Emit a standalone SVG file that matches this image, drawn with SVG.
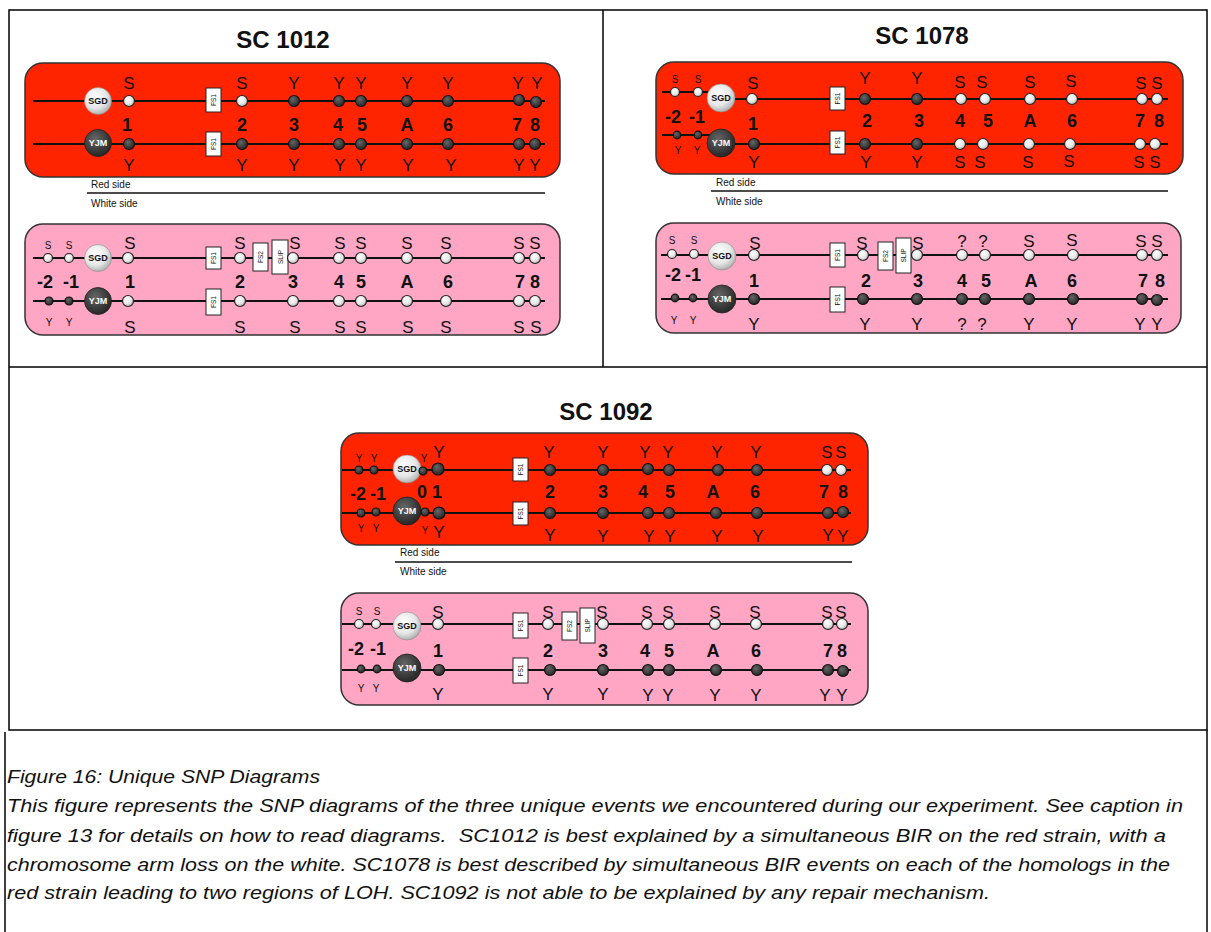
<svg xmlns="http://www.w3.org/2000/svg" width="1211" height="932" viewBox="0 0 1211 932">
<defs>
<radialGradient id="gw" cx="40%" cy="35%" r="70%"><stop offset="0" stop-color="#ffffff"/><stop offset="0.6" stop-color="#e6e6e6"/><stop offset="1" stop-color="#a8a8a8"/></radialGradient>
<radialGradient id="gd" cx="40%" cy="35%" r="70%"><stop offset="0" stop-color="#666"/><stop offset="0.6" stop-color="#3c3c3c"/><stop offset="1" stop-color="#222"/></radialGradient>
<style>
text{font-family:"Liberation Sans",Arial,sans-serif;fill:#111}
.lb{font-size:17px;text-anchor:middle}
.sm{font-size:10px;text-anchor:middle}
.num{font-size:18px;font-weight:bold;text-anchor:middle}
.title{font-size:24px;font-weight:bold;text-anchor:middle}
.side{font-size:10px}
.bx{fill:#fff;stroke:#222;stroke-width:1}
.bt{font-size:6.5px;text-anchor:middle;dominant-baseline:central}
.w{fill:url(#gw);stroke:#222;stroke-width:1.2}
.d{fill:url(#gd);stroke:#111;stroke-width:1.2}
.bw{fill:url(#gw);stroke:#888;stroke-width:0.6}
.bd{fill:url(#gd);stroke:#222;stroke-width:0.8}
.bl{font-size:9px;font-weight:bold;text-anchor:middle;dominant-baseline:central}
.chr{stroke:#111;stroke-width:2;fill:none}
.sep{stroke:#111;stroke-width:1.5}
.red{fill:#ff2400;stroke:#333;stroke-width:1.5}
.pink{fill:#ffa6c4;stroke:#333;stroke-width:1.5}
.frame{fill:none;stroke:#000;stroke-width:1.5}
.cap{font-size:18px;font-style:italic;white-space:pre}
</style>
</defs>
<rect width="1211" height="932" fill="#fff"/>
<g id="frame">
<rect class="frame" x="9" y="10" width="1198" height="720"/>
<line class="frame" x1="603" y1="10" x2="603" y2="367"/>
<line class="frame" x1="9" y1="367" x2="1207" y2="367"/>
<line class="frame" x1="5" y1="732" x2="5" y2="932"/>
<line class="frame" x1="1207" y1="730" x2="1207" y2="932"/>
</g>
<g id="panels">
<rect class="red" x="25" y="63" width="535" height="114" rx="18"/>
<rect class="pink" x="25" y="224" width="535" height="111" rx="18"/>
<rect class="red" x="656" y="62" width="527" height="112" rx="18"/>
<rect class="pink" x="656" y="223" width="525" height="110" rx="18"/>
<rect class="red" x="341" y="433" width="527" height="112" rx="18"/>
<rect class="pink" x="341" y="593" width="527" height="112" rx="18"/>
</g>
<g id="connectors">
<line class="chr" x1="33" y1="101" x2="545" y2="101"/>
<line class="chr" x1="33" y1="144" x2="545" y2="144"/>
<line class="chr" x1="33" y1="258" x2="545" y2="258"/>
<line class="chr" x1="33" y1="301" x2="545" y2="301"/>
<line class="chr" x1="662" y1="92" x2="721" y2="92"/>
<line class="chr" x1="721" y1="99" x2="1168" y2="99"/>
<line class="chr" x1="662" y1="135" x2="721" y2="135"/>
<line class="chr" x1="721" y1="144" x2="1168" y2="144"/>
<line class="chr" x1="661" y1="255" x2="1168" y2="255"/>
<line class="chr" x1="661" y1="299" x2="1168" y2="299"/>
<line class="chr" x1="342" y1="470" x2="851" y2="470"/>
<line class="chr" x1="342" y1="513" x2="851" y2="513"/>
<line class="chr" x1="342" y1="624" x2="851" y2="624"/>
<line class="chr" x1="342" y1="670" x2="851" y2="670"/>
<line class="sep" x1="87" y1="193" x2="545" y2="193"/>
<line class="sep" x1="711" y1="191" x2="1168" y2="191"/>
<line class="sep" x1="395" y1="562" x2="852" y2="562"/>
</g>

<g id="sc1012">
<text class="title" x="283" y="48">SC 1012</text>
<text class="side" x="91" y="188">Red side</text>
<text class="side" x="91" y="207">White side</text>
</g>
<g id="sc1012-red">
<circle class="bw" cx="98" cy="101" r="13.5"/><text class="bl" x="98" y="101">SGD</text>
<circle class="bd" cx="98" cy="143" r="13.5"/><text class="bl" x="98" y="143" style="fill:#fff">YJM</text>
<rect class="bx" x="206" y="88" width="15" height="24"/><text class="bt" transform="translate(213.5,100) rotate(-90)">FS1</text>
<rect class="bx" x="206" y="132" width="15" height="24"/><text class="bt" transform="translate(213.5,144) rotate(-90)">FS1</text>
<circle class="w" cx="129" cy="101" r="5.5"/><circle class="w" cx="242" cy="101" r="5.5"/><circle class="d" cx="294" cy="101" r="5.5"/><circle class="d" cx="339" cy="101" r="5.5"/><circle class="d" cx="361" cy="101" r="5.5"/><circle class="d" cx="407" cy="101" r="5.5"/><circle class="d" cx="448" cy="101" r="5.5"/><circle class="d" cx="519" cy="100" r="5.5"/><circle class="d" cx="536" cy="102" r="5.5"/>
<circle class="d" cx="129" cy="144" r="5.5"/><circle class="d" cx="242" cy="144" r="5.5"/><circle class="d" cx="294" cy="144" r="5.5"/><circle class="d" cx="339" cy="144" r="5.5"/><circle class="d" cx="361" cy="144" r="5.5"/><circle class="d" cx="407" cy="144" r="5.5"/><circle class="d" cx="448" cy="144" r="5.5"/><circle class="d" cx="519" cy="144" r="5.5"/><circle class="d" cx="535" cy="144" r="5.5"/>
<text class="lb" x="129" y="89">S</text><text class="lb" x="242" y="89">S</text><text class="lb" x="294" y="89">Y</text><text class="lb" x="339" y="89">Y</text><text class="lb" x="361" y="89">Y</text><text class="lb" x="407" y="89">Y</text><text class="lb" x="448" y="89">Y</text><text class="lb" x="518" y="89">Y</text><text class="lb" x="537" y="89">Y</text>
<text class="num" x="127" y="131">1</text><text class="num" x="242" y="131">2</text><text class="num" x="294" y="131">3</text><text class="num" x="338" y="131">4</text><text class="num" x="362" y="131">5</text><text class="num" x="407" y="131">A</text><text class="num" x="448" y="131">6</text><text class="num" x="517" y="131">7</text><text class="num" x="535" y="131">8</text>
<text class="lb" x="129" y="171">Y</text><text class="lb" x="242" y="171">Y</text><text class="lb" x="294" y="171">Y</text><text class="lb" x="340" y="171">Y</text><text class="lb" x="361" y="171">Y</text><text class="lb" x="408" y="171">Y</text><text class="lb" x="451" y="171">Y</text><text class="lb" x="519" y="171">Y</text><text class="lb" x="535" y="171">Y</text>
</g>
<g id="sc1012-white">
<circle class="w" cx="48" cy="258" r="4.5"/><circle class="w" cx="69" cy="258" r="4.5"/>
<circle class="d" cx="49" cy="301" r="4"/><circle class="d" cx="69" cy="301" r="4"/>
<circle class="bw" cx="98" cy="258" r="13.5"/><text class="bl" x="98" y="258">SGD</text>
<circle class="bd" cx="98" cy="301" r="13.5"/><text class="bl" x="98" y="301" style="fill:#fff">YJM</text>
<rect class="bx" x="206" y="247" width="15" height="22"/><text class="bt" transform="translate(213.5,258) rotate(-90)">FS1</text>
<rect class="bx" x="253" y="243" width="15" height="28"/><text class="bt" transform="translate(260.5,257) rotate(-90)">FS2</text>
<rect class="bx" x="272" y="240" width="16" height="34"/><text class="bt" transform="translate(280,257) rotate(-90)">SLIP</text>
<rect class="bx" x="206" y="289" width="15" height="26"/><text class="bt" transform="translate(213.5,302) rotate(-90)">FS1</text>
<circle class="w" cx="128" cy="258" r="5.5"/><circle class="w" cx="240" cy="258" r="5.5"/><circle class="w" cx="293" cy="258" r="5.5"/><circle class="w" cx="339" cy="258" r="5.5"/><circle class="w" cx="361" cy="258" r="5.5"/><circle class="w" cx="407" cy="258" r="5.5"/><circle class="w" cx="446" cy="258" r="5.5"/><circle class="w" cx="519" cy="258" r="5.5"/><circle class="w" cx="535" cy="258" r="5.5"/>
<circle class="w" cx="128" cy="301" r="5.5"/><circle class="w" cx="240" cy="301" r="5.5"/><circle class="w" cx="293" cy="301" r="5.5"/><circle class="w" cx="339" cy="301" r="5.5"/><circle class="w" cx="361" cy="301" r="5.5"/><circle class="w" cx="407" cy="301" r="5.5"/><circle class="w" cx="446" cy="301" r="5.5"/><circle class="w" cx="519" cy="301" r="5.5"/><circle class="w" cx="535" cy="301" r="5.5"/>
<text class="sm" x="48" y="248.5">S</text><text class="sm" x="69" y="248.5">S</text>
<text class="lb" x="130" y="249">S</text><text class="lb" x="240" y="249">S</text><text class="lb" x="295" y="249">S</text><text class="lb" x="340" y="249">S</text><text class="lb" x="361" y="249">S</text><text class="lb" x="407" y="249">S</text><text class="lb" x="446" y="249">S</text><text class="lb" x="519" y="249">S</text><text class="lb" x="535" y="249">S</text>
<text class="num" x="45" y="287.5">-2</text><text class="num" x="71" y="287.5">-1</text><text class="num" x="130" y="287.5">1</text><text class="num" x="240" y="287.5">2</text><text class="num" x="293" y="287.5">3</text><text class="num" x="339" y="287.5">4</text><text class="num" x="361" y="287.5">5</text><text class="num" x="407" y="287.5">A</text><text class="num" x="448" y="287.5">6</text><text class="num" x="520" y="287.5">7</text><text class="num" x="535" y="287.5">8</text>
<text class="sm" x="49" y="325.5">Y</text><text class="sm" x="69" y="325.5">Y</text>
<text class="lb" x="130" y="333">S</text><text class="lb" x="240" y="333">S</text><text class="lb" x="295" y="333">S</text><text class="lb" x="340" y="333">S</text><text class="lb" x="361" y="333">S</text><text class="lb" x="408" y="333">S</text><text class="lb" x="446" y="333">S</text><text class="lb" x="519" y="333">S</text><text class="lb" x="536" y="333">S</text>
</g>

<g id="sc1078">
<text class="title" x="922" y="44">SC 1078</text>
<text class="side" x="716" y="186">Red side</text>
<text class="side" x="716" y="205">White side</text>
</g>
<g id="sc1078-red">
<circle class="w" cx="675" cy="92" r="4.5"/><circle class="w" cx="698" cy="92" r="4.5"/>
<circle class="d" cx="677" cy="135" r="3.8"/><circle class="d" cx="698" cy="135" r="3.8"/>
<circle class="bw" cx="721" cy="98" r="14"/><text class="bl" x="721" y="98">SGD</text>
<circle class="bd" cx="721" cy="143" r="14"/><text class="bl" x="721" y="143" style="fill:#fff">YJM</text>
<rect class="bx" x="830" y="87" width="15" height="23"/><text class="bt" transform="translate(837.5,98.5) rotate(-90)">FS1</text>
<rect class="bx" x="830" y="131" width="15" height="23"/><text class="bt" transform="translate(837.5,142.5) rotate(-90)">FS1</text>
<circle class="w" cx="752" cy="99" r="5.5"/><circle class="d" cx="865" cy="99" r="5.5"/><circle class="d" cx="917" cy="99" r="5.5"/><circle class="w" cx="961" cy="99" r="5.5"/><circle class="w" cx="985" cy="99" r="5.5"/><circle class="w" cx="1030" cy="99" r="5.5"/><circle class="w" cx="1072" cy="99" r="5.5"/><circle class="w" cx="1142" cy="99" r="5.5"/><circle class="w" cx="1157" cy="99" r="5.5"/>
<circle class="d" cx="754" cy="144" r="5.5"/><circle class="d" cx="865" cy="144" r="5.5"/><circle class="d" cx="917" cy="144" r="5.5"/><circle class="w" cx="960" cy="144" r="5.5"/><circle class="w" cx="983" cy="144" r="5.5"/><circle class="w" cx="1029" cy="144" r="5.5"/><circle class="w" cx="1070" cy="144" r="5.5"/><circle class="w" cx="1140" cy="144" r="5.5"/><circle class="w" cx="1155" cy="144" r="5.5"/>
<text class="sm" x="675" y="82.5">S</text><text class="sm" x="698" y="82.5">S</text>
<text class="lb" x="753" y="89">S</text><text class="lb" x="865" y="84">Y</text><text class="lb" x="917" y="84">Y</text><text class="lb" x="960" y="88">S</text><text class="lb" x="982" y="88">S</text><text class="lb" x="1030" y="88">S</text><text class="lb" x="1071" y="87">S</text><text class="lb" x="1141" y="89">S</text><text class="lb" x="1157" y="89">S</text>
<text class="num" x="673" y="122.5">-2</text><text class="num" x="697" y="122.5">-1</text><text class="num" x="753" y="129.5">1</text><text class="num" x="867" y="126.5">2</text><text class="num" x="919" y="126.5">3</text><text class="num" x="960" y="126.5">4</text><text class="num" x="988" y="126.5">5</text><text class="num" x="1030" y="126.5">A</text><text class="num" x="1072" y="126.5">6</text><text class="num" x="1140" y="126.5">7</text><text class="num" x="1159" y="126.5">8</text>
<text class="sm" x="678" y="153.5">Y</text><text class="sm" x="697" y="153.5">Y</text>
<text class="lb" x="754" y="168">Y</text><text class="lb" x="866" y="168">Y</text><text class="lb" x="917" y="168">Y</text><text class="lb" x="960" y="168">S</text><text class="lb" x="980" y="168">S</text><text class="lb" x="1028" y="168">S</text><text class="lb" x="1069" y="167">S</text><text class="lb" x="1139" y="168">S</text><text class="lb" x="1155" y="168">S</text>
</g>
<g id="sc1078-white">
<circle class="w" cx="672" cy="254" r="4.5"/><circle class="w" cx="694" cy="254" r="4.5"/>
<circle class="d" cx="675" cy="298" r="3.8"/><circle class="d" cx="693" cy="298" r="3.8"/>
<circle class="bw" cx="722" cy="256" r="14"/><text class="bl" x="722" y="256">SGD</text>
<circle class="bd" cx="722" cy="299" r="14"/><text class="bl" x="722" y="299" style="fill:#fff">YJM</text>
<rect class="bx" x="830" y="243" width="15" height="24"/><text class="bt" transform="translate(837.5,255) rotate(-90)">FS1</text>
<rect class="bx" x="878" y="242" width="15" height="28"/><text class="bt" transform="translate(885.5,256) rotate(-90)">FS2</text>
<rect class="bx" x="896" y="238" width="15" height="35"/><text class="bt" transform="translate(903.5,255.5) rotate(-90)">SLIP</text>
<rect class="bx" x="830" y="287" width="15" height="25"/><text class="bt" transform="translate(837.5,299.5) rotate(-90)">FS1</text>
<circle class="w" cx="754" cy="255" r="5.5"/><circle class="w" cx="863" cy="255" r="5.5"/><circle class="w" cx="917" cy="255" r="5.5"/><circle class="w" cx="962" cy="255" r="5.5"/><circle class="w" cx="985" cy="255" r="5.5"/><circle class="w" cx="1029" cy="255" r="5.5"/><circle class="w" cx="1073" cy="255" r="5.5"/><circle class="w" cx="1142" cy="255" r="5.5"/><circle class="w" cx="1157" cy="255" r="5.5"/>
<circle class="d" cx="754" cy="299" r="5.5"/><circle class="d" cx="863" cy="299" r="5.5"/><circle class="d" cx="917" cy="299" r="5.5"/><circle class="d" cx="962" cy="299" r="5.5"/><circle class="d" cx="985" cy="299" r="5.5"/><circle class="d" cx="1029" cy="299" r="5.5"/><circle class="d" cx="1073" cy="299" r="5.5"/><circle class="d" cx="1142" cy="299" r="5.5"/><circle class="d" cx="1157" cy="300" r="5.5"/>
<text class="sm" x="672" y="243.5">S</text><text class="sm" x="694" y="243.5">S</text>
<text class="lb" x="755" y="249">S</text><text class="lb" x="862" y="249">S</text><text class="lb" x="918" y="249">S</text><text class="lb" x="962" y="247">?</text><text class="lb" x="983" y="247">?</text><text class="lb" x="1029" y="247">S</text><text class="lb" x="1072" y="246">S</text><text class="lb" x="1141" y="247">S</text><text class="lb" x="1157" y="247">S</text>
<text class="num" x="673" y="281">-2</text><text class="num" x="693" y="281">-1</text><text class="num" x="754" y="286.5">1</text><text class="num" x="866" y="286.5">2</text><text class="num" x="918" y="286.5">3</text><text class="num" x="962" y="286.5">4</text><text class="num" x="986" y="286.5">5</text><text class="num" x="1031" y="286.5">A</text><text class="num" x="1072" y="286.5">6</text><text class="num" x="1143" y="286.5">7</text><text class="num" x="1160" y="286.5">8</text>
<text class="sm" x="674" y="323.5">Y</text><text class="sm" x="693" y="323.5">Y</text>
<text class="lb" x="754" y="329.5">Y</text><text class="lb" x="865" y="329.5">Y</text><text class="lb" x="917" y="329.5">Y</text><text class="lb" x="962" y="330">?</text><text class="lb" x="982" y="330">?</text><text class="lb" x="1029" y="330">Y</text><text class="lb" x="1072" y="330">Y</text><text class="lb" x="1140" y="330">Y</text><text class="lb" x="1157" y="330">Y</text>
</g>

<g id="sc1092">
<text class="title" x="606" y="420">SC 1092</text>
<text class="side" x="400" y="556">Red side</text>
<text class="side" x="400" y="575">White side</text>
</g>
<g id="sc1092-red">
<circle class="d" cx="359" cy="470" r="4"/><circle class="d" cx="374" cy="470" r="4"/>
<circle class="d" cx="361" cy="513" r="4"/><circle class="d" cx="376" cy="512" r="4"/>
<circle class="bw" cx="407" cy="469" r="14"/><text class="bl" x="407" y="469">SGD</text>
<circle class="bd" cx="407" cy="511" r="14"/><text class="bl" x="407" y="511" style="fill:#fff">YJM</text>
<circle class="d" cx="423" cy="471" r="4"/><circle class="d" cx="425" cy="512" r="4"/>
<rect class="bx" x="513" y="458" width="15" height="23"/><text class="bt" transform="translate(520.5,469.5) rotate(-90)">FS1</text>
<rect class="bx" x="513" y="502" width="15" height="23"/><text class="bt" transform="translate(520.5,513.5) rotate(-90)">FS1</text>
<circle class="d" cx="438" cy="469" r="6"/><circle class="d" cx="550" cy="470" r="5.5"/><circle class="d" cx="603" cy="470" r="5.5"/><circle class="d" cx="648" cy="469" r="5.5"/><circle class="d" cx="669" cy="470" r="5.5"/><circle class="d" cx="718" cy="470" r="5.5"/><circle class="d" cx="757" cy="470" r="5.5"/><circle class="w" cx="827" cy="470" r="5.5"/><circle class="w" cx="841" cy="470" r="5.5"/>
<circle class="d" cx="439" cy="513" r="6"/><circle class="d" cx="550" cy="513" r="5.5"/><circle class="d" cx="603" cy="513" r="5.5"/><circle class="d" cx="648" cy="513" r="5.5"/><circle class="d" cx="669" cy="513" r="5.5"/><circle class="d" cx="716" cy="513" r="5.5"/><circle class="d" cx="757" cy="513" r="5.5"/><circle class="d" cx="828" cy="513" r="5.5"/><circle class="d" cx="843" cy="512" r="5.5"/>
<text class="sm" x="359" y="461.5">Y</text><text class="sm" x="374" y="461.5">Y</text><text class="sm" x="424" y="461.5">Y</text>
<text class="lb" x="439" y="458">Y</text><text class="lb" x="549" y="458">Y</text><text class="lb" x="603" y="458">Y</text><text class="lb" x="645" y="458">Y</text><text class="lb" x="668" y="458">Y</text><text class="lb" x="717" y="458">Y</text><text class="lb" x="756" y="458">Y</text><text class="lb" x="827" y="458">S</text><text class="lb" x="841" y="458">S</text>
<text class="num" x="358" y="499.5">-2</text><text class="num" x="378" y="499.5">-1</text><text class="num" x="422" y="498">0</text><text class="num" x="437" y="498">1</text><text class="num" x="550" y="498">2</text><text class="num" x="603" y="498">3</text><text class="num" x="643" y="498">4</text><text class="num" x="670" y="498">5</text><text class="num" x="713" y="498">A</text><text class="num" x="755" y="498">6</text><text class="num" x="824" y="498">7</text><text class="num" x="843" y="498">8</text>
<text class="sm" x="361" y="531.5">Y</text><text class="sm" x="376" y="531.5">Y</text><text class="sm" x="425" y="533.5">Y</text>
<text class="lb" x="439" y="538">Y</text><text class="lb" x="550" y="541">Y</text><text class="lb" x="603" y="542">Y</text><text class="lb" x="649" y="542">Y</text><text class="lb" x="670" y="542">Y</text><text class="lb" x="717" y="542">Y</text><text class="lb" x="758" y="542">Y</text><text class="lb" x="828" y="541">Y</text><text class="lb" x="843" y="542">Y</text>
</g>
<g id="sc1092-white">
<circle class="w" cx="359" cy="624" r="4.5"/><circle class="w" cx="376" cy="624" r="4.5"/>
<circle class="d" cx="361" cy="669" r="3.8"/><circle class="d" cx="377" cy="669" r="3.8"/>
<circle class="bw" cx="407" cy="626" r="14"/><text class="bl" x="407" y="626">SGD</text>
<circle class="bd" cx="407" cy="668" r="14"/><text class="bl" x="407" y="668" style="fill:#fff">YJM</text>
<rect class="bx" x="513" y="613" width="15" height="25"/><text class="bt" transform="translate(520.5,625.5) rotate(-90)">FS1</text>
<rect class="bx" x="562" y="612" width="15" height="28"/><text class="bt" transform="translate(569.5,626) rotate(-90)">FS2</text>
<rect class="bx" x="580" y="608" width="15" height="35"/><text class="bt" transform="translate(587.5,625.5) rotate(-90)">SLIP</text>
<rect class="bx" x="513" y="658" width="15" height="25"/><text class="bt" transform="translate(520.5,670.5) rotate(-90)">FS1</text>
<circle class="w" cx="438" cy="624" r="5.5"/><circle class="w" cx="548" cy="624" r="5.5"/><circle class="w" cx="603" cy="624" r="5.5"/><circle class="w" cx="647" cy="624" r="5.5"/><circle class="w" cx="669" cy="624" r="5.5"/><circle class="w" cx="715" cy="624" r="5.5"/><circle class="w" cx="756" cy="624" r="5.5"/><circle class="w" cx="828" cy="624" r="5.5"/><circle class="w" cx="842" cy="624" r="5.5"/>
<circle class="d" cx="439" cy="670" r="5.5"/><circle class="d" cx="550" cy="670" r="5.5"/><circle class="d" cx="603" cy="670" r="5.5"/><circle class="d" cx="648" cy="670" r="5.5"/><circle class="d" cx="669" cy="670" r="5.5"/><circle class="d" cx="716" cy="670" r="5.5"/><circle class="d" cx="757" cy="670" r="5.5"/><circle class="d" cx="828" cy="670" r="5.5"/><circle class="d" cx="843" cy="671" r="5.5"/>
<text class="sm" x="359" y="615">S</text><text class="sm" x="377" y="615">S</text>
<text class="lb" x="438" y="618">S</text><text class="lb" x="548" y="618">S</text><text class="lb" x="602" y="618">S</text><text class="lb" x="647" y="618">S</text><text class="lb" x="668" y="618">S</text><text class="lb" x="715" y="618">S</text><text class="lb" x="755" y="618">S</text><text class="lb" x="827" y="618">S</text><text class="lb" x="841" y="618">S</text>
<text class="num" x="356" y="654.5">-2</text><text class="num" x="378" y="654.5">-1</text><text class="num" x="438" y="656.5">1</text><text class="num" x="548" y="656.5">2</text><text class="num" x="603" y="656.5">3</text><text class="num" x="645" y="656.5">4</text><text class="num" x="669" y="656.5">5</text><text class="num" x="713" y="656.5">A</text><text class="num" x="756" y="656.5">6</text><text class="num" x="828" y="656.5">7</text><text class="num" x="842" y="656.5">8</text>
<text class="sm" x="361" y="692">Y</text><text class="sm" x="376" y="692">Y</text>
<text class="lb" x="438" y="700">Y</text><text class="lb" x="548" y="700">Y</text><text class="lb" x="603" y="700">Y</text><text class="lb" x="648" y="701">Y</text><text class="lb" x="668" y="701">Y</text><text class="lb" x="715" y="701">Y</text><text class="lb" x="756" y="701">Y</text><text class="lb" x="825" y="701">Y</text><text class="lb" x="842" y="701">Y</text>
</g>

<g id="caption">
<text class="cap" x="7" y="783" textLength="313" lengthAdjust="spacingAndGlyphs">Figure 16: Unique SNP Diagrams</text>
<text class="cap" x="7" y="812" textLength="1176" lengthAdjust="spacingAndGlyphs">This figure represents the SNP diagrams of the three unique events we encountered during our experiment. See caption in</text>
<text class="cap" x="7" y="842" textLength="1159" lengthAdjust="spacingAndGlyphs">figure 13 for details on how to read diagrams.  SC1012 is best explained by a simultaneous BIR on the red strain, with a</text>
<text class="cap" x="7" y="871" textLength="1163" lengthAdjust="spacingAndGlyphs">chromosome arm loss on the white. SC1078 is best described by simultaneous BIR events on each of the homologs in the</text>
<text class="cap" x="7" y="899" textLength="983" lengthAdjust="spacingAndGlyphs">red strain leading to two regions of LOH. SC1092 is not able to be explained by any repair mechanism.</text>
</g>
</svg>
